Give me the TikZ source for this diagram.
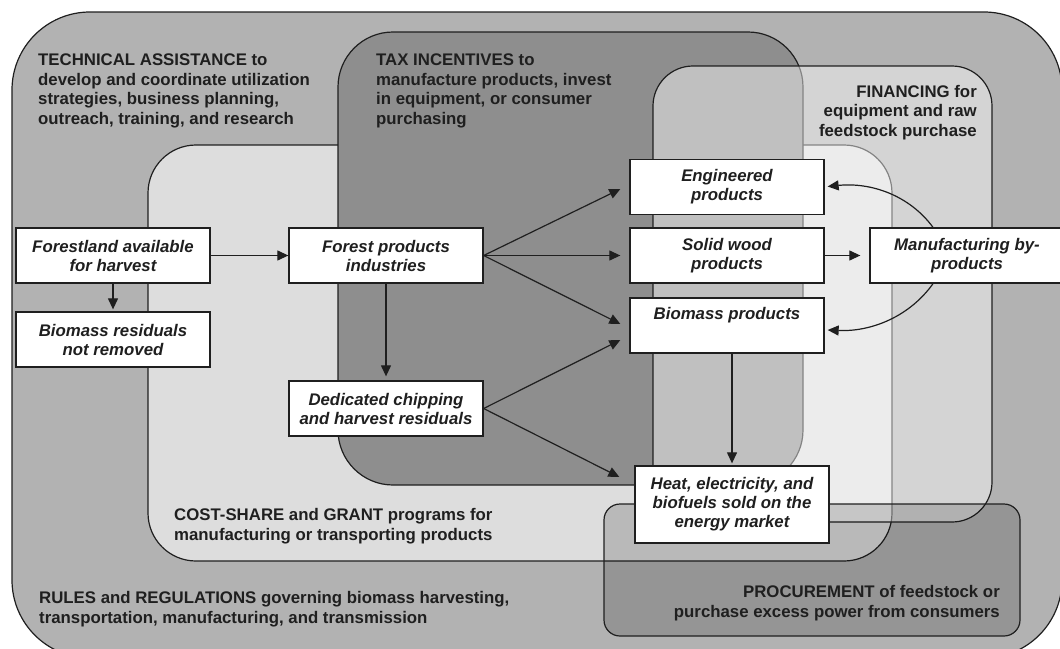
\documentclass[tikz,border=0pt]{standalone}
\usepackage{fontspec}
\setmainfont{Liberation Sans}
\usetikzlibrary{arrows.meta}
\definecolor{outerc}{gray}{0.70}
\definecolor{costc}{gray}{0.865}
\definecolor{taxc}{gray}{0.555}
\definecolor{linec}{gray}{0.12}
\begin{document}
\begin{tikzpicture}[x=1pt,y=-1pt,
  region/.style={draw=linec, line width=1.2pt},
  lbl/.style={font=\bfseries\fontsize{16.8}{19.5}\selectfont, inner sep=0pt, text=linec},
  box/.style={draw=linec, fill=white, line width=1.3pt, minimum width=194pt, minimum height=55pt,
    align=center, inner sep=0pt, font=\bfseries\itshape\fontsize{16.8}{19}\selectfont, text=linec},
  arr/.style={-{Triangle[length=11pt,width=10pt]}, line width=1.2pt, draw=linec}]
\useasboundingbox (0,0) rectangle (1060,648);
\clip (0,0) rectangle (1060,648);
% regions
\draw[region, fill=outerc, rounded corners=78pt] (12,12) rectangle (1062,658);
\draw[region, fill=costc, rounded corners=48pt] (148,145) rectangle (892,561);
\draw[region, fill=taxc, rounded corners=55pt] (338,32) rectangle (803,485);
\draw[region, fill=white, fill opacity=0.45, rounded corners=40pt] (653,66) rectangle (992,522);
\draw[region, fill=black, fill opacity=0.16, rounded corners=16pt] (604,504) rectangle (1020,636);
% region labels (base = last line)
\node[lbl, anchor=base west, align=left] (ta) at (38,124) {TECHNICAL ASSISTANCE to\\develop and coordinate utilization\\strategies, business planning,\\outreach, training, and research};
\node[lbl, anchor=base west, align=left] (tax) at (376,124) {TAX INCENTIVES to\\manufacture products, invest\\in equipment, or consumer\\purchasing};
\node[lbl, anchor=base east, align=right] (fin) at (977,136) {FINANCING for\\equipment and raw\\feedstock purchase};
\node[lbl, anchor=base west, align=left] (cost) at (174,540) {COST-SHARE and GRANT programs for\\manufacturing or transporting products};
\node[lbl, anchor=base west, align=left] (rules) at (39,623) {RULES and REGULATIONS governing biomass harvesting,\\transportation, manufacturing, and transmission};
\node[lbl, anchor=base east, align=right] (proc) at (1000,617) {PROCUREMENT of feedstock or\\purchase excess power from consumers};
% boxes
\node[box] (forest) at (113,255.5) {Forestland available\\for harvest};
\node[box] (resid) at (113,339.5) {Biomass residuals\\not removed};
\node[box] (fpi) at (386,255.5) {Forest products\\industries};
\node[box] (chip) at (386,408.5) {Dedicated chipping\\and harvest residuals};
\node[box] (eng) at (727,187) {Engineered\\products};
\node[box] (solid) at (727,255.5) {Solid wood\\products};
\node[box] (bio) at (727,325.5) {Biomass products\\\strut};
\node[box, minimum height=77pt] (heat) at (732,504.5) {Heat, electricity, and\\biofuels sold on the\\energy market};
\node[box] (mfg) at (967,255.5) {Manufacturing by-\\products};
% arrows
\draw[arr] (forest.east) -- (fpi.west);
\draw[arr, shorten >=2pt] (forest.south) -- (resid.north);
\draw[arr, shorten >=4pt] (fpi.south) -- (chip.north);
\draw[arr] (fpi.east) -- ([shift={(-9,2)}]eng.west);
\draw[arr] (fpi.east) -- ([shift={(-9,0)}]solid.west);
\draw[arr] (fpi.east) -- ([shift={(-9,-1.5)}]bio.west);
\draw[arr] (chip.east) -- ([shift={(-9,14.5)}]bio.west);
\draw[arr] (chip.east) -- ([shift={(-15,-27.5)}]heat.west);
\draw[arr, shorten >=2pt] (heat.north |- bio.south) -- (heat.north);
\draw[arr] (solid.east) -- ([shift={(-9,0)}]mfg.west);
\draw[arr] ([shift={(-34,0)}]mfg.north) .. controls (910,196) and (872,182) .. ([shift={(3,-0.5)}]eng.east);
\draw[arr] ([shift={(-34,0)}]mfg.south) .. controls (910,316) and (872,332) .. ([shift={(3,4.5)}]bio.east);
\end{tikzpicture}
\end{document}
